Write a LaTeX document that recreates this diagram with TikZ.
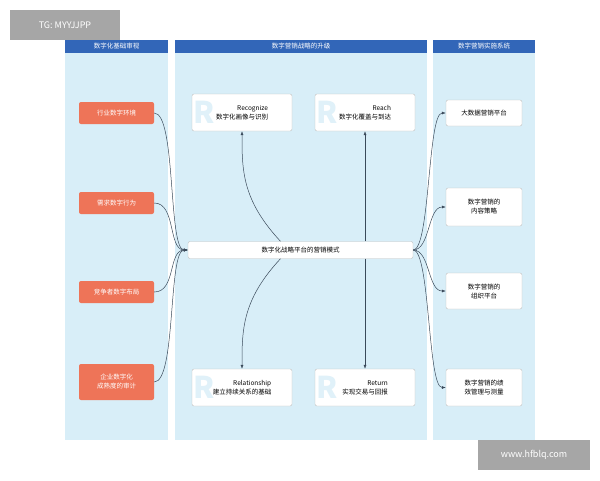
\documentclass[tikz,border=0pt]{standalone}
\usepackage{fontspec}
\setmainfont{Noto Sans CJK SC}
\usetikzlibrary{arrows.meta}
\definecolor{colbg}{HTML}{D8EEF8}
\definecolor{hdr}{HTML}{3266B8}
\definecolor{org}{HTML}{EE7458}
\definecolor{ln}{HTML}{3A4A5A}
\tikzset{
 hdrbox/.style={fill=hdr,text=white,font=\fontsize{6.5}{7}\selectfont,inner sep=0},
 obox/.style={fill=org,text=white,rounded corners=2pt,minimum width=75pt,font=\fontsize{6.5}{9}\selectfont,align=center},
 wbox/.style={fill=white,draw=gray!50,rounded corners=2pt,font=\fontsize{6.5}{9}\selectfont,align=center},
 rbox/.style={draw=gray!50,rounded corners=2pt,minimum width=100pt,minimum height=37pt,font=\fontsize{6.5}{9}\selectfont,align=right},
 conn/.style={draw=ln,line width=0.5pt,-{Latex[length=4pt,width=3pt]}},
 wm/.style={fill=black!35,text=white,inner sep=0,font=\fontsize{9}{10}\selectfont}
}
\begin{document}
\begin{tikzpicture}[x=1pt,y=-1pt]
\useasboundingbox (0,0) rectangle (600,480);
\fill[white] (0,0) rectangle (600,480);
\fill[colbg] (65,40) rectangle (168,440);
\fill[colbg] (175,40) rectangle (427,440);
\fill[colbg] (433,40) rectangle (535,440);
\node[hdrbox,minimum width=103pt,minimum height=13pt] (h1) at (116.5,46.5) {数字化基础审视};
\node[hdrbox,minimum width=252pt,minimum height=13pt] (h2) at (301,46.5) {数字营销战略的升级};
\node[hdrbox,minimum width=102pt,minimum height=13pt] (h3) at (484,46.5) {数字营销实施系统};
\node[obox,minimum height=22pt] (l1) at (116.5,113) {行业数字环境};
\node[obox,minimum height=22pt] (l2) at (116.5,203) {需求数字行为};
\node[obox,minimum height=22pt] (l3) at (116.5,292) {竞争者数字布局};
\node[obox,minimum height=36pt] (l4) at (116.5,382) {企业数字化\\成熟度的审计};
\foreach \px/\py in {242/112.5,365/112.5,242/387.5,365/387.5}{
 \fill[white,rounded corners=2pt] (\px-50,\py-18.5) rectangle (\px+50,\py+18.5);
 \node[text=colbg!80!white,font=\bfseries\fontsize{30}{30}\selectfont] at (\px-38,\py) {R};}
\node[rbox] (m1) at (242,112.5) {Recognize\\数字化画像与识别};
\node[rbox] (m2) at (365,112.5) {Reach\\数字化覆盖与到达};
\node[rbox] (m3) at (242,387.5) {Relationship\\建立持续关系的基础};
\node[rbox] (m4) at (365,387.5) {Return\\实现交易与回报};
\node[wbox,minimum width=225pt,minimum height=17pt] (c) at (300.5,250) {数字化战略平台的营销模式};
\node[wbox,minimum width=76pt,minimum height=26pt] (r1) at (484,113) {大数据营销平台};
\node[wbox,minimum width=76pt,minimum height=38pt] (r2) at (484,207) {数字营销的\\内容策略};
\node[wbox,minimum width=76pt,minimum height=36pt] (r3) at (484,291) {数字营销的\\组织平台};
\node[wbox,minimum width=76pt,minimum height=37pt] (r4) at (484,387.5) {数字营销的绩\\效管理与测量};
\foreach \n in {l1,l2,l3,l4}{\draw[conn] (\n.east) .. controls ([xshift=22pt]\n.east) and (168,250) .. (c.west);}
\draw[conn] ([xshift=-20pt]c.north) .. controls (242,200) and (242,170) .. (m1.south);
\draw[conn] ([xshift=64.5pt]c.north) -- (m2.south);
\draw[conn] ([xshift=64.5pt]c.south) -- (m4.north);
\draw[conn] ([xshift=-20pt]c.south) .. controls (242,300) and (242,330) .. (m3.north);
\foreach \n in {r1,r2,r3,r4}{\draw[conn] (c.east) .. controls (430,250) and ([xshift=-18pt]\n.west) .. (\n.west);}
\node[wm,minimum width=110pt,minimum height=30pt] (w1) at (65,25) {TG: MYYJJPP};
\node[wm,minimum width=112pt,minimum height=30pt] (w2) at (534,455) {www.hfblq.com};
\end{tikzpicture}
\end{document}
